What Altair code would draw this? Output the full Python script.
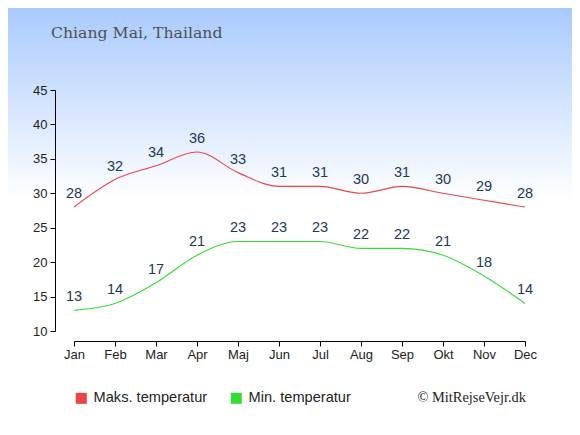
import altair as alt
import pandas as pd

months = ["Jan", "Feb", "Mar", "Apr", "Maj", "Jun", "Jul", "Aug", "Sep", "Okt", "Nov", "Dec"]
max_temp = [28, 32, 34, 36, 33, 31, 31, 30, 31, 30, 29, 28]
min_temp = [13, 14, 17, 21, 23, 23, 23, 22, 22, 21, 18, 14]
series_names = ["Maks. temperatur", "Min. temperatur"]
series_colors = ["#ee4444", "#33dd33"]
y_ticks = [10, 15, 20, 25, 30, 35, 40, 45]
title_text = "Chiang Mai, Thailand"
credit_text = "© MitRejseVejr.dk"

W, H = 451, 241
PL, PT = 66, 82
TOTAL_W, TOTAL_H = 564, 419

rows = []
for m, a, b in zip(months, max_temp, min_temp):
    rows.append({"month": m, "temp": a, "series": series_names[0]})
    rows.append({"month": m, "temp": b, "series": series_names[1]})
df = pd.DataFrame(rows)

x_enc = alt.X(
    "month:N",
    sort=months,
    scale=alt.Scale(type="point", padding=0),
    axis=alt.Axis(
        title=None, labelAngle=0, offset=10, grid=False, tickSize=5,
        labelPadding=2, labelFontSize=13, labelFont="Liberation Sans",
        labelColor="#222222", domainColor="#000000", tickColor="#000000",
        zindex=1,
    ),
)
y_enc = alt.Y(
    "temp:Q",
    scale=alt.Scale(domain=[10, 45], nice=False, zero=False),
    axis=alt.Axis(
        title=None, values=y_ticks, offset=19, grid=False, tickSize=5,
        labelPadding=3, labelFontSize=13, labelFont="Liberation Sans",
        labelColor="#222222", domainColor="#000000", tickColor="#000000",
        zindex=1,
    ),
)

gradient = {
    "gradient": "linear",
    "x1": 0, "y1": 0, "x2": 0, "y2": 1,
    "stops": [
        {"offset": 0, "color": "#a9cafe"},
        {"offset": 0.46, "color": "#ffffff"},
        {"offset": 1, "color": "#ffffff"},
    ],
}

one = pd.DataFrame({"t": [title_text], "c": [credit_text]})

bg = alt.Chart(one).mark_rect(fill=gradient).encode(
    x=alt.value(-PL), x2=alt.value(TOTAL_W - PL),
    y=alt.value(-PT), y2=alt.value(TOTAL_H - PT),
)

color_scale = alt.Scale(domain=series_names, range=series_colors)

legend_layer = alt.Chart(df).mark_square(size=0, opacity=0).encode(
    x=x_enc,
    y=y_enc,
    fill=alt.Fill(
        "series:N",
        scale=color_scale,
        legend=alt.Legend(
            title=None, orient="none", legendX=0, legendY=301,
            direction="horizontal", symbolType="square", symbolSize=121,
            symbolStrokeWidth=0, symbolOpacity=1, labelFontSize=14.6,
            labelFont="Liberation Sans", labelColor="#222222",
            labelOffset=5, columnPadding=21,
        ),
    ),
)

lines = alt.Chart(df).mark_line(interpolate="monotone", strokeWidth=1.1).encode(
    x=x_enc,
    y=y_enc,
    stroke=alt.Stroke("series:N", scale=color_scale, legend=None),
    detail="series:N",
)

labels = alt.Chart(df).mark_text(
    dy=-13, baseline="middle", align="center", fontSize=14.5,
    font="Liberation Sans", color="#22375a",
).encode(x=x_enc, y=y_enc, text="temp:Q")

title = alt.Chart(one).mark_text(
    align="left", baseline="alphabetic", fontSize=15.7, font="DejaVu Serif",
    color="#505050",
).encode(x=alt.value(-23), y=alt.value(-52), text="t:N")

credit = alt.Chart(one).mark_text(
    align="right", baseline="middle", fontSize=14.4, font="Liberation Serif",
    color="#222222",
).encode(x=alt.value(452), y=alt.value(308), text="c:N")

chart = alt.layer(bg, legend_layer, lines, labels, title, credit).properties(
    width=W, height=H,
    autosize=alt.AutoSizeParams(type="none"),
    padding={"left": PL, "top": PT, "right": TOTAL_W - PL - W, "bottom": TOTAL_H - PT - H},
    background="white",
).configure_view(stroke=None)

chart.save("out.html", embed_options={"renderer": "svg", "actions": False})
